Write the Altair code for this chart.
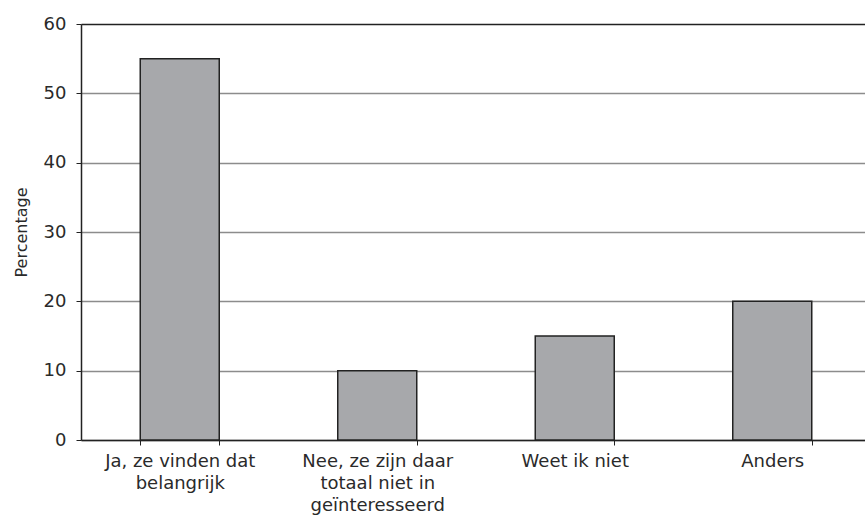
import altair as alt
import pandas as pd

# Survey answers and their share of respondents (%)
categories = [
    "Ja, ze vinden dat\nbelangrijk",
    "Nee, ze zijn daar\ntotaal niet in\ngeïnteresseerd",
    "Weet ik niet",
    "Anders",
]
percentages = [55, 10, 15, 20]
y_ticks = [0, 10, 20, 30, 40, 50, 60]

df = pd.DataFrame({"antwoord": categories, "percentage": percentages})

FONT = "DejaVu Sans"

chart = (
    alt.Chart(df)
    .mark_bar(color="#a7a8ab", stroke="#222222", strokeWidth=1.5)
    .encode(
        x=alt.X(
            "antwoord:N",
            sort=categories,
            title=None,
            # the category axis runs a little past the right edge of the view
            scale=alt.Scale(paddingInner=0.6, paddingOuter=0.3, range=[0, 790]),
            axis=alt.Axis(
                labelAngle=0,
                labelExpr="split(datum.label, '\\n')",
                labelFontSize=18,
                labelLineHeight=22,
                labelColor="#2a2a2a",
                labelPadding=7,
                tickBand="extent",
                tickSize=5,
                tickColor="#222222",
                domainColor="#222222",
                domainWidth=1.5,
                grid=False,
            ),
        ),
        y=alt.Y(
            "percentage:Q",
            title="Percentage",
            scale=alt.Scale(domain=[0, 60], nice=False),
            axis=alt.Axis(
                values=y_ticks,
                labelFontSize=18,
                labelColor="#2a2a2a",
                labelPadding=10,
                tickSize=5,
                tickColor="#222222",
                domainColor="#222222",
                domainWidth=1.5,
                titleFontSize=16,
                titleFontWeight="normal",
                titleColor="#2a2a2a",
                titlePadding=14,
                gridColor=alt.condition(
                    "datum.value === 60", alt.value("#222222"), alt.value("#8c8c8c")
                ),
                gridWidth=1.3,
            ),
        ),
    )
    .properties(
        width=784,
        height=416,
        autosize=alt.AutoSizeParams(type="none"),
        padding={"left": 81, "top": 24, "right": 0, "bottom": 83},
    )
    .configure_view(stroke=None)
    .configure(font=FONT)
)

chart.save("out.html", embed_options={"renderer": "svg", "actions": False})
